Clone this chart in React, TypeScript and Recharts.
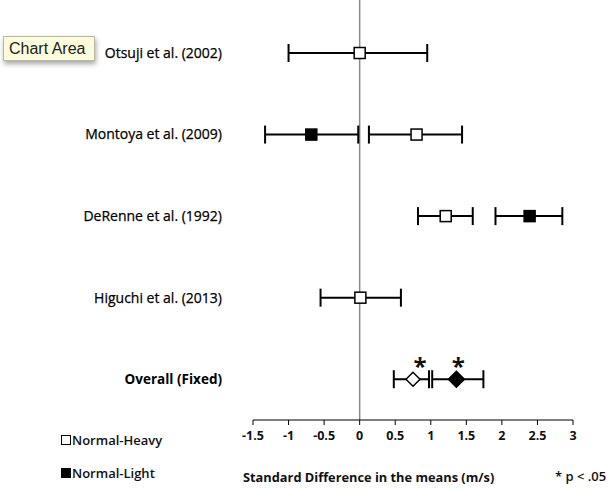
import React from 'react';
import { ScatterChart, Scatter, XAxis, YAxis, ErrorBar, ReferenceLine } from 'recharts';

const studies = ['Otsuji et al. (2002)', 'Montoya et al. (2009)', 'DeRenne et al. (1992)', 'Higuchi et al. (2013)', 'Overall (Fixed)'];
const xTicks = [-1.5, -1, -0.5, 0, 0.5, 1, 1.5, 2, 2.5, 3];

// Normal-Heavy (open squares), null = not reported
const heavyMean = [0, 0.8, 1.21, 0.01, 0.75];
const heavyLow = [-1.0, 0.13, 0.82, -0.55, 0.48];
const heavyHigh = [0.95, 1.44, 1.59, 0.58, 0.975];

// Normal-Light (filled squares)
const lightMean = [null, -0.68, 2.39, null, 1.36];
const lightLow = [null, -1.33, 1.91, null, 1.02];
const lightHigh = [null, -0.02, 2.85, null, 1.74];

const OVERALL = 4;
const font = '"Open Sans", "Noto Sans", sans-serif';

const build = (mean: (number | null)[], low: (number | null)[], high: (number | null)[]) =>
  mean
    .map((m, i) => (m === null ? null : { x: m, y: i, err: [m - (low[i] as number), (high[i] as number) - m], overall: i === OVERALL }))
    .filter(Boolean) as { x: number; y: number; err: number[]; overall: boolean }[];

const heavyData = build(heavyMean, heavyLow, heavyHigh);
const lightData = build(lightMean, lightLow, lightHigh);

const makeShape = (filled: boolean, starDx: number) => (props: any) => {
  const { cx, cy, payload } = props;
  const fill = filled ? '#000' : '#fff';
  if (payload.overall) {
    const w = filled ? 8 : 7;
    const h = filled ? 8 : 7;
    return (
      <g>
        <polygon points={`${cx - w},${cy} ${cx},${cy - h} ${cx + w},${cy} ${cx},${cy + h}`} fill={fill} stroke="#000" strokeWidth={1.5} />
        <text x={cx + starDx} y={cy - 4} textAnchor="middle" fontSize={24} fontWeight="bold" fontFamily={font} fill="#111">*</text>
      </g>
    );
  }
  const s = 11;
  return <rect x={cx - s / 2} y={cy - s / 2} width={s} height={s} fill={fill} stroke="#000" strokeWidth={1.5} />;
};

const StudyTick = (props: any) => {
  const { x, y, payload } = props;
  const bold = payload.value === OVERALL;
  return (
    <text
      x={x}
      y={y}
      dy="0.35em"
      textAnchor="end"
      fontSize={bold ? 13.5 : 14}
      fontWeight={bold ? 'bold' : 'normal'}
      fontFamily={font}
      fill="#000"
      stroke={bold ? 'none' : '#000'}
      strokeWidth={0.25}
    >
      {studies[payload.value]}
    </text>
  );
};

const LegendItem = ({ filled, label, top }: { filled: boolean; label: string; top: number }) => (
  <div style={{ position: 'absolute', left: 61, top, display: 'flex', alignItems: 'center', fontFamily: font, fontSize: 13, fontWeight: 600, color: '#111' }}>
    <span style={{ display: 'inline-block', width: 8, height: 8, border: '1.5px solid #000', background: filled ? '#000' : '#fff', marginRight: 1 }} />
    {label}
  </div>
);

export default function App() {
  return (
    <div style={{ position: 'absolute', left: 0, top: 0, width: 614, height: 488, background: '#fff', overflow: 'hidden' }}>
      <ScatterChart width={614} height={488} margin={{ top: 0, right: 41, bottom: 0, left: 0 }}>
        <XAxis
          type="number"
          dataKey="x"
          domain={[-1.5, 3]}
          ticks={xTicks}
          interval={0}
          allowDataOverflow
          height={68}
          tickSize={5}
          tickMargin={6}
          stroke="#000"
          axisLine={{ stroke: '#000', strokeWidth: 1.2 }}
          tickLine={{ stroke: '#000' }}
          tick={{ fontSize: 12.5, fontWeight: 'bold', fontFamily: font, fill: '#111' }}
        />
        <YAxis
          type="number"
          dataKey="y"
          domain={[-0.65, 4.5]}
          reversed
          allowDataOverflow
          ticks={[0, 1, 2, 3, 4]}
          interval={0}
          width={253}
          axisLine={false}
          tickLine={false}
          tickSize={6}
          tickMargin={25}
          tick={<StudyTick />}
        />
        <ReferenceLine x={0} stroke="#8a8a8a" strokeWidth={1.5} />
        <Scatter data={heavyData} isAnimationActive={false} shape={makeShape(false, 7)}>
          <ErrorBar dataKey="err" direction="x" width={9} stroke="#000" strokeWidth={2} />
        </Scatter>
        <Scatter data={lightData} isAnimationActive={false} shape={makeShape(true, 2)}>
          <ErrorBar dataKey="err" direction="x" width={9} stroke="#000" strokeWidth={2} />
        </Scatter>
      </ScatterChart>

      <LegendItem filled={false} label="Normal-Heavy" top={431} />
      <LegendItem filled={true} label="Normal-Light" top={464} />

      <div style={{ position: 'absolute', left: 243, top: 468, fontFamily: font, fontSize: 12.8, fontWeight: 'bold', color: '#111' }}>
        Standard Difference in the means (m/s)
      </div>
      <div style={{ position: 'absolute', left: 555, top: 467, fontFamily: font, fontSize: 13, fontWeight: 600, color: '#111' }}>
        * p &lt; .05
      </div>

      <div
        style={{
          position: 'absolute',
          left: 3,
          top: 36,
          width: 92,
          height: 25,
          boxSizing: 'border-box',
          background: '#fcfbdc',
          border: '1px solid #b8b8a8',
          boxShadow: '1px 3px 5px rgba(0,0,0,0.35)',
          fontFamily: '"Liberation Sans", "Noto Sans", sans-serif',
          fontSize: 16,
          color: '#222',
          lineHeight: '23px',
          paddingLeft: 5,
          whiteSpace: 'nowrap',
        }}
      >
        Chart Area
      </div>
    </div>
  );
}
